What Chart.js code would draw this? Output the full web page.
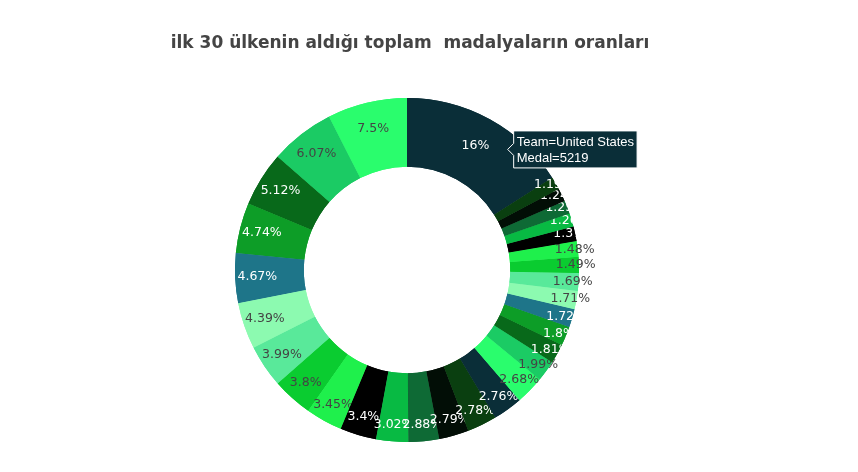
<!DOCTYPE html>
<html>
<head>
<meta charset="utf-8">
<script src="https://cdn.jsdelivr.net/npm/chart.js@4.4.0/dist/chart.umd.min.js"></script>
<style>
    html, body { margin: 0; padding: 0; background: #fff; }
    #wrap { width: 858px; height: 472px; }
</style>
</head>
<body>
<div id="wrap"><canvas id="medal-chart" width="858" height="472"></canvas></div>
<script>
// top 30 teams, sorted by medal count (descending)
const teams = ['United States', 'Soviet Union', 'Germany', 'Great Britain', 'France', 'Italy',
    'Sweden', 'Australia', 'Canada', 'Hungary', 'Russia', 'Netherlands', 'Norway', 'East Germany',
    'China', 'Japan', 'Finland', 'Switzerland', 'Romania', 'South Korea', 'Denmark', 'West Germany',
    'Poland', 'Spain', 'Brazil', 'Belgium', 'Austria', 'Cuba', 'Czechoslovakia', 'Yugoslavia'];
const shares = [16, 7.5, 6.07, 5.12, 4.74, 4.67, 4.39, 3.99, 3.8, 3.45, 3.4, 3.02, 2.88, 2.79, 2.78,
    2.76, 2.68, 1.99, 1.81, 1.8, 1.72, 1.71, 1.69, 1.49, 1.48, 1.37, 1.26, 1.25, 1.24, 1.19];
const palette = ['#0a2e38', '#2afd6d', '#1bcb64', '#08691a', '#0d9d27', '#1e7589', '#8cfab0',
    '#59e99a', '#0acc30', '#1ff04c', '#000000', '#08ba43', '#0e6a35', '#020e06', '#0a3f10'];
const chartTitle = 'ilk 30 ülkenin aldığı toplam  madalyaların oranları';
const hoverTeam = 'United States';
const hoverMedal = 5219;

// plotly layout: first slice clockwise from 12 o'clock, the rest counterclockwise
const order = [0].concat(teams.map((_, i) => i).slice(1).reverse());
const sliceColors = teams.map((_, i) => palette[i % palette.length]);

function textOn(hex) {
    const r = parseInt(hex.substr(1, 2), 16);
    const g = parseInt(hex.substr(3, 2), 16);
    const b = parseInt(hex.substr(5, 2), 16);
    return (r * 299 + g * 587 + b * 114) / 1000 < 128 ? '#ffffff' : '#444444';
}

// how far in from the outer edge a label sits, by slice size
const insetSteps = [[1.4, 2], [2, 10], [2.8, 16], [4, 21], [7.5, 27], [16, 30]];
function labelInset(pct) {
    if (pct <= insetSteps[0][0]) return insetSteps[0][1];
    for (let k = 1; k < insetSteps.length; k++) {
        const [p1, v1] = insetSteps[k];
        const [p0, v0] = insetSteps[k - 1];
        if (pct <= p1) return v0 + (v1 - v0) * (pct - p0) / (p1 - p0);
    }
    return insetSteps[insetSteps.length - 1][1];
}

const sliceLabels = {
    id: 'sliceLabels',
    afterDatasetsDraw(chart) {
        const ctx = chart.ctx;
        const meta = chart.getDatasetMeta(0);
        const ds = chart.data.datasets[0];
        // redraw slice by slice in plotly order so later slices cover earlier text
        const drawOrder = [0].concat(meta.data.map((_, i) => i).slice(1).reverse());
        ctx.save();
        ctx.font = '12.5px "DejaVu Sans"';
        ctx.textAlign = 'center';
        ctx.textBaseline = 'middle';
        drawOrder.forEach(i => {
            const arc = meta.data[i];
            arc.draw(ctx);
            const p = arc.getProps(['x', 'y', 'startAngle', 'endAngle', 'outerRadius']);
            const mid = (p.startAngle + p.endAngle) / 2;
            const r = p.outerRadius - labelInset(ds.data[i]);
            ctx.fillStyle = textOn(ds.backgroundColor[i]);
            ctx.fillText(ds.data[i] + '%', p.x + r * Math.cos(mid), p.y + r * Math.sin(mid));
        });
        ctx.restore();
    },
    afterDraw(chart) {
        const ctx = chart.ctx;
        ctx.save();
        ctx.font = 'bold 17px "DejaVu Sans"';
        ctx.fillStyle = '#444444';
        ctx.textAlign = 'center';
        ctx.textBaseline = 'middle';
        ctx.fillText(chartTitle, 410, 44);

        // static hover label on the first slice
        const arc = chart.getDatasetMeta(0).data[0];
        const p = arc.getProps(['x', 'y', 'startAngle', 'endAngle', 'outerRadius']);
        const mid = (p.startAngle + p.endAngle) / 2;
        const R = p.outerRadius;
        const rIn = 0.2;
        const tipX = p.x + R * Math.cos(mid) * (1 - rIn) + rIn * R;
        const tipY = p.y + R * Math.sin(mid) * (1 - rIn);
        const lines = ['Team=' + hoverTeam, 'Medal=' + hoverMedal];
        ctx.font = '13px "Liberation Sans"';
        const tw = Math.max(...lines.map(l => ctx.measureText(l).width));
        const w = tw + 6, h = 37;
        const x0 = tipX + 6;
        ctx.beginPath();
        ctx.moveTo(tipX, tipY);
        ctx.lineTo(x0, tipY - 6);
        ctx.lineTo(x0, tipY - h / 2);
        ctx.lineTo(x0 + w, tipY - h / 2);
        ctx.lineTo(x0 + w, tipY + h / 2);
        ctx.lineTo(x0, tipY + h / 2);
        ctx.lineTo(x0, tipY + 6);
        ctx.closePath();
        ctx.fillStyle = sliceColors[0];
        ctx.fill();
        ctx.strokeStyle = '#ffffff';
        ctx.lineWidth = 1;
        ctx.stroke();
        ctx.fillStyle = '#ffffff';
        ctx.textAlign = 'left';
        ctx.textBaseline = 'alphabetic';
        ctx.fillText(lines[0], x0 + 3, tipY - 3);
        ctx.fillText(lines[1], x0 + 3, tipY + 13);
        ctx.restore();
    }
};

new Chart(document.getElementById('medal-chart').getContext('2d'), {
    type: 'doughnut',
    data: {
        labels: order.map(i => teams[i]),
        datasets: [{
            data: order.map(i => shares[i]),
            backgroundColor: order.map(i => sliceColors[i]),
            borderWidth: 0
        }]
    },
    options: {
        responsive: false,
        animation: false,
        events: [],
        cutout: '60%',
        layout: { padding: { top: 98, bottom: 30, left: 0, right: 44 } },
        plugins: {
            legend: { display: false },
            tooltip: { enabled: false },
            title: { display: false }
        }
    },
    plugins: [sliceLabels]
});
</script>
</body>
</html>
